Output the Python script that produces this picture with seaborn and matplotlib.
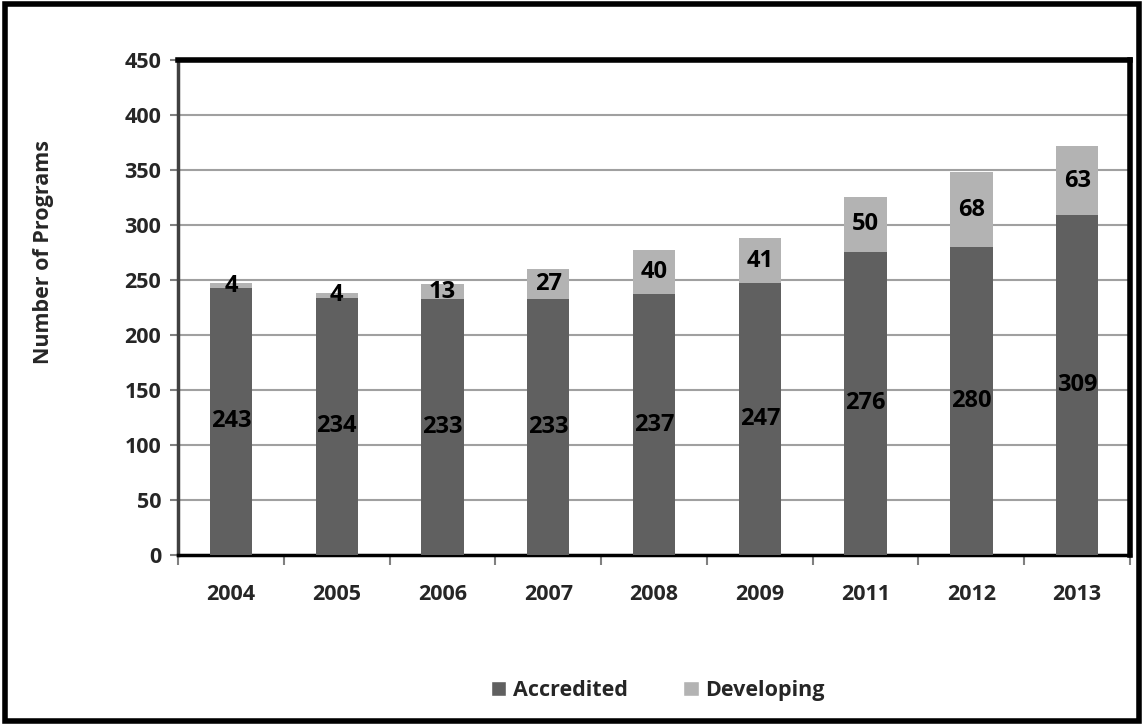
import matplotlib
matplotlib.use("Agg")
import matplotlib.pyplot as plt
from matplotlib.patches import Rectangle, Patch
from matplotlib.ticker import FixedLocator
import seaborn as sns
import pandas as pd
import numpy as np

years = ["2004", "2005", "2006", "2007", "2008", "2009", "2011", "2012", "2013"]
accredited = [243, 234, 233, 233, 237, 247, 276, 280, 309]
developing = [4, 4, 13, 27, 40, 41, 50, 68, 63]
y_ticks = [0, 50, 100, 150, 200, 250, 300, 350, 400, 450]

c_acc = "#606060"
c_dev = "#B3B3B3"

sns.set_theme(style="white")
plt.rcParams["font.family"] = ["Open Sans", "DejaVu Sans"]
plt.rcParams["font.weight"] = "bold"

df = pd.DataFrame({"year": years, "acc": accredited, "dev": developing})
df["total"] = df["acc"] + df["dev"]

fig = plt.figure(figsize=(11.44, 7.25), dpi=100)
ax = fig.add_axes([0.1556, 0.2345, 0.8322, 0.6825])

sns.barplot(data=df, x="year", y="total", color=c_dev, width=0.4, ax=ax,
            saturation=1, zorder=3, edgecolor="none")
sns.barplot(data=df, x="year", y="acc", color=c_acc, width=0.4, ax=ax,
            saturation=1, zorder=4, edgecolor="none")

ax.set_ylim(0, 450)
ax.set_xlim(-0.5, len(years) - 0.5)
ax.yaxis.set_major_locator(FixedLocator(y_ticks))
ax.grid(axis="y", color="#A0A0A0", linewidth=1.5, zorder=0)
ax.set_axisbelow(True)

for i, (a, d) in enumerate(zip(accredited, developing)):
    ax.text(i, a / 2, str(a), ha="center", va="center", fontsize=17,
            fontweight="bold", color="black", zorder=6)
    ax.text(i, a + d / 2, str(d), ha="center", va="center", fontsize=17,
            fontweight="bold", color="black", zorder=6)

ax.set_xlabel("")
ax.set_ylabel("Number of Programs", fontsize=15.5, fontweight="bold")
ax.yaxis.set_label_coords(-0.130, 0.612)
ax.tick_params(axis="y", labelsize=15.5, length=6, width=1.5, color="#808080",
               direction="out", left=True, pad=6)
ax.tick_params(axis="x", which="major", labelsize=15.5, length=0, pad=21)
ax.set_xticks(np.arange(-0.5, len(years), 1.0), minor=True)
ax.tick_params(axis="x", which="minor", length=7, width=1.5, color="#808080",
               direction="out", bottom=True)
for lab in ax.get_xticklabels() + ax.get_yticklabels():
    lab.set_fontweight("bold")

for side in ["top", "right"]:
    ax.spines[side].set_color("black")
    ax.spines[side].set_linewidth(4)
ax.spines["bottom"].set_color("black")
ax.spines["bottom"].set_linewidth(2.5)
ax.spines["left"].set_color("#404040")
ax.spines["left"].set_linewidth(2.5)

handles = [Patch(facecolor=c_acc, label="Accredited"),
           Patch(facecolor=c_dev, label="Developing")]
fig.legend(handles=handles, loc="center", bbox_to_anchor=(0.575, 0.048),
           ncol=2, frameon=False, handlelength=0.7,
           handleheight=0.7, columnspacing=2.6, handletextpad=0.3,
           prop={"weight": "bold", "size": 15.5})

fig.patches.append(Rectangle((0.004, 0.006), 0.992, 0.988, transform=fig.transFigure,
                             fill=False, edgecolor="black", linewidth=4))

fig.savefig("out.png", dpi=100)
